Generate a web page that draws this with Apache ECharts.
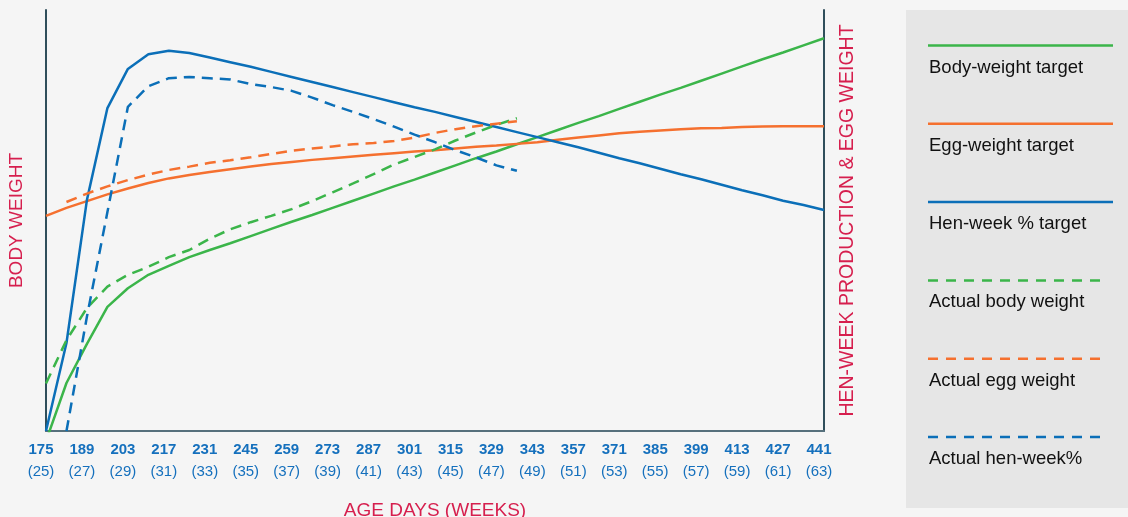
<!DOCTYPE html>
<html>
<head>
<meta charset="utf-8">
<title>Layer performance</title>
<script src="https://cdn.jsdelivr.net/npm/echarts@6.0.0/dist/echarts.min.js"></script>
<style>
  html, body { margin: 0; padding: 0; background: #f5f5f5; }
  #chart { width: 1128px; height: 517px; }
</style>
</head>
<body>
<div id="chart"></div>
<script>
// age in weeks and days (x categories)
const weeks = [25, 26, 27, 28, 29, 30, 31, 32, 33, 34, 35, 36, 37, 38, 39, 40, 41, 42, 43, 44,
  45, 46, 47, 48, 49, 50, 51, 52, 53, 54, 55, 56, 57, 58, 59, 60, 61, 62, 63]
const days = [175, 182, 189, 196, 203, 210, 217, 224, 231, 238, 245, 252, 259, 266, 273, 280, 287, 294, 301, 308,
  315, 322, 329, 336, 343, 350, 357, 364, 371, 378, 385, 392, 399, 406, 413, 420, 427, 434, 441]

// values, as % of axis height (no scale printed on the chart)
const bodyWeightTarget = [-2.4, 11.4, 20.7, 29.5, 33.9, 37.1, 39.2, 41.3, 43.0, 44.6, 46.3, 48.0, 49.7, 51.3, 53.0,
  54.7, 56.4, 58.1, 59.7, 61.4, 63.1, 64.8, 66.4, 68.1, 69.8, 71.5, 73.2, 74.8, 76.5, 78.2, 79.9, 81.5, 83.2, 84.9,
  86.6, 88.3, 89.9, 91.6, 93.3]
const eggWeightTarget = [51.1, 53.0, 54.6, 56.2, 57.6, 58.9, 60.0, 60.8, 61.5, 62.2, 62.8, 63.4, 63.9, 64.4, 64.8,
  65.2, 65.6, 66.0, 66.4, 66.7, 67.1, 67.5, 67.8, 68.2, 68.6, 69.2, 69.7, 70.2, 70.7, 71.1, 71.4, 71.7, 71.9, 72.0,
  72.2, 72.3, 72.4, 72.4, 72.4]
const henWeekTarget = [0, 20.9, 54.9, 76.7, 86.0, 89.5, 90.3, 89.8, 88.7, 87.6, 86.5, 85.3, 84.1, 82.9, 81.7, 80.5,
  79.3, 78.1, 76.9, 75.8, 74.6, 73.4, 72.2, 71.0, 69.8, 68.6, 67.4, 66.1, 64.8, 63.6, 62.3, 61.0, 59.8, 58.5, 57.2,
  56.0, 54.7, 53.7, 52.5]
const actualBodyWeight = [11.3, 21.6, 29.2, 34.3, 37.1, 39.0, 41.3, 43.0, 45.7, 47.9, 49.6, 51.1, 52.7, 54.6, 56.7,
  58.8, 61.0, 63.3, 65.1, 66.9, 69.0, 70.9, 72.7, 74.3]
const actualEggWeight = [null, 54.4, 56.4, 58.1, 59.6, 60.9, 62.0, 62.8, 63.7, 64.3, 65.0, 65.8, 66.6, 67.1, 67.6,
  68.1, 68.4, 68.9, 69.7, 70.8, 71.7, 72.4, 73.0, 73.6]
const actualHenWeek = [null, 0, 27.2, 52.0, 77.0, 81.9, 83.8, 84.1, 83.8, 83.5, 82.4, 81.7, 80.8, 79.2, 77.4, 75.8,
  74.1, 72.3, 70.4, 68.6, 66.7, 65.0, 63.1, 61.8]

const GREEN = '#3bb54a'
const ORANGE = '#f5702f'
const BLUE = '#0b6fb8'
const RED = '#d61f4e'
const FONT = '"Liberation Sans", Arial, sans-serif'

const legendItems = [
  { name: 'Body-weight target', color: GREEN, dashed: false },
  { name: 'Egg-weight target', color: ORANGE, dashed: false },
  { name: 'Hen-week % target', color: BLUE, dashed: false },
  { name: 'Actual body weight', color: GREEN, dashed: true },
  { name: 'Actual egg weight', color: ORANGE, dashed: true },
  { name: 'Actual hen-week%', color: BLUE, dashed: true }
]

function line(name, data, color, dashed, yAxisIndex) {
  return {
    name: name,
    type: 'line',
    yAxisIndex: yAxisIndex,
    data: data,
    symbol: 'none',
    clip: true,
    lineStyle: { color: color, width: 2.5, type: dashed ? [11, 7] : 'solid' }
  }
}

// legend panel on the right, drawn as graphics
const graphics = [{
  type: 'rect',
  shape: { x: 906, y: 10, width: 222, height: 498 },
  style: { fill: '#e6e6e6' },
  silent: true
}]
legendItems.forEach(function (it, i) {
  const y = 45.5 + i * 78.3
  graphics.push({
    type: 'line',
    shape: { x1: 928, y1: y, x2: it.dashed ? 1105 : 1113, y2: y },
    style: { stroke: it.color, lineWidth: 2.5, lineDash: it.dashed ? [10, 8] : null },
    silent: true
  })
  graphics.push({
    type: 'text',
    x: 929,
    y: y + 22,
    style: { text: it.name, font: '18.5px ' + FONT, fill: '#111', verticalAlign: 'middle' },
    silent: true
  })
})

const chart = echarts.init(document.getElementById('chart'))
chart.setOption({
  backgroundColor: '#f5f5f5',
  animation: false,
  grid: { left: 46, right: 304, top: 10, bottom: 86, outerBoundsMode: 'none' },
  xAxis: {
    type: 'category',
    boundaryGap: false,
    data: weeks,
    name: 'AGE DAYS (WEEKS)',
    nameLocation: 'middle',
    nameGap: 70,
    nameTextStyle: { color: RED, fontSize: 19, fontFamily: FONT },
    axisLine: { lineStyle: { color: '#56707c', width: 2 } },
    axisTick: { show: false },
    axisLabel: {
      interval: 1,
      margin: 8,
      padding: [0, 10, 0, 0],
      formatter: function (value, index) {
        return '{d|' + days[index] + '}\n{w|(' + value + ')}'
      },
      rich: {
        d: { fontWeight: 'bold', fontSize: 15, lineHeight: 22, color: '#1570bd', fontFamily: FONT },
        w: { fontSize: 15, lineHeight: 22, color: '#1570bd', fontFamily: FONT }
      }
    }
  },
  yAxis: [
    {
      type: 'value',
      position: 'left',
      min: 0,
      max: 100,
      name: 'BODY WEIGHT',
      nameLocation: 'middle',
      nameRotate: 90,
      nameGap: 20,
      nameTextStyle: { color: RED, fontSize: 19, fontFamily: FONT },
      axisLine: { show: true, lineStyle: { color: '#2f4e5b', width: 2 } },
      axisTick: { show: false },
      axisLabel: { show: false },
      splitLine: { show: false }
    },
    {
      type: 'value',
      position: 'right',
      min: 0,
      max: 100,
      name: 'HEN-WEEK PRODUCTION & EGG WEIGHT',
      nameLocation: 'middle',
      nameRotate: 90,
      nameGap: 14,
      nameTextStyle: { color: RED, fontSize: 19.5, fontFamily: FONT },
      axisLine: { show: true, lineStyle: { color: '#2f4e5b', width: 2 } },
      axisTick: { show: false },
      axisLabel: { show: false },
      splitLine: { show: false }
    }
  ],
  series: [
    line('Body-weight target', bodyWeightTarget, GREEN, false, 0),
    line('Egg-weight target', eggWeightTarget, ORANGE, false, 1),
    line('Hen-week % target', henWeekTarget, BLUE, false, 1),
    line('Actual body weight', actualBodyWeight, GREEN, true, 0),
    line('Actual egg weight', actualEggWeight, ORANGE, true, 1),
    line('Actual hen-week%', actualHenWeek, BLUE, true, 1)
  ],
  graphic: graphics
})
</script>
</body>
</html>
